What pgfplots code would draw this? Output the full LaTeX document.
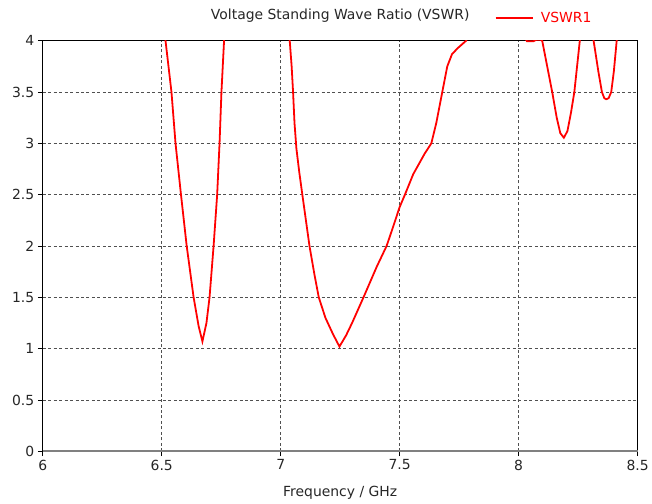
\documentclass[border=0pt]{standalone}
\usepackage{fontspec}
\setmainfont{DejaVu Sans}
\usepackage{pgfplots}
\pgfplotsset{compat=1.18}
\definecolor{gridc}{RGB}{80,80,80}
\definecolor{botc}{RGB}{128,128,128}
\newcommand{\fs}{\fontsize{14}{16}\selectfont}
\begin{document}
\begin{tikzpicture}
\begin{axis}[
  scale only axis,
  width=598.5pt, height=413pt,
  xmin=6, xmax=8.5, ymin=0, ymax=4,
  xtick={6,6.5,7,7.5,8,8.5},
  ytick={0,0.5,1,1.5,2,2.5,3,3.5,4},
  xticklabels={6,6.5,7,7.5,8,8.5},
  yticklabels={0,0.5,1,1.5,2,2.5,3,3.5,4},
  tick label style={font=\fs, text=black!85},
  tick align=outside,
  major tick length=5pt,
  tick style={black, line width=0.6pt},
  xtick pos=bottom, ytick pos=left,
  grid=major,
  major grid style={gridc, line width=0.8pt, dash pattern=on 3pt off 2.5pt},
  axis line style={black, line width=0.9pt},
  xlabel={Frequency / GHz},
  xlabel style={font=\fs, text=black!85, at={(axis description cs:0.5,0)}, anchor=base, yshift=-46pt},
  every axis title shift=0pt,
  title={Voltage Standing Wave Ratio (VSWR)},
  title style={font=\fs, text=black!85, at={(axis description cs:0.5,1)}, anchor=base, yshift=21.5pt},
  legend style={at={(axis description cs:0.760,1.0557)}, anchor=west, draw=none, fill=none,
    font=\fs, text=red, inner sep=0pt, outer sep=0pt,
    nodes={inner xsep=7.5pt}},
  legend image code/.code={\draw[#1] (0pt,0pt) -- (37pt,0pt);},
  clip mode=individual,
]
\addplot[red, line width=1.8pt] coordinates {
(6.500,4.30) (6.516,4.00) (6.541,3.50) (6.558,3.00) (6.581,2.50) (6.605,2.00)
(6.634,1.50) (6.655,1.22) (6.671,1.07) (6.688,1.25) (6.701,1.50) (6.718,2.00)
(6.733,2.50) (6.743,3.00) (6.751,3.50) (6.762,4.00) (6.775,4.40)
(7.000,4.50) (7.038,4.00) (7.046,3.75) (7.052,3.50) (7.058,3.20) (7.066,2.95)
(7.078,2.72) (7.091,2.50) (7.121,2.00) (7.142,1.72)
(7.160,1.50) (7.188,1.30) (7.220,1.14) (7.247,1.02) (7.275,1.13) (7.300,1.25) (7.348,1.50)
(7.404,1.80) (7.445,2.00) (7.470,2.17) (7.500,2.38) (7.522,2.50) (7.557,2.70) (7.605,2.90)
(7.633,3.00) (7.654,3.20) (7.679,3.50) (7.700,3.75) (7.720,3.87) (7.745,3.93)
(7.779,4.00) (7.800,4.10)
(8.020,4.05) (8.035,3.995) (8.062,3.995) (8.075,4.01) (8.092,4.01) (8.099,4.00)
(8.120,3.75) (8.141,3.50) (8.160,3.25) (8.175,3.10) (8.190,3.055) (8.205,3.12)
(8.220,3.30) (8.234,3.50) (8.257,4.00) (8.265,4.20)
(8.305,4.20) (8.315,4.00) (8.335,3.70) (8.350,3.50) (8.360,3.44) (8.368,3.43)
(8.378,3.44) (8.389,3.50) (8.400,3.70) (8.412,4.00) (8.420,4.20)
};
\addlegendentry{VSWR1}
\draw[botc, line width=1.6pt] (rel axis cs:0,0) -- (rel axis cs:1,0);
\path (rel axis cs:0,0) +(-43pt,-50pt) (rel axis cs:1,1) +(10.5pt,41pt);
\end{axis}
\end{tikzpicture}
\end{document}
